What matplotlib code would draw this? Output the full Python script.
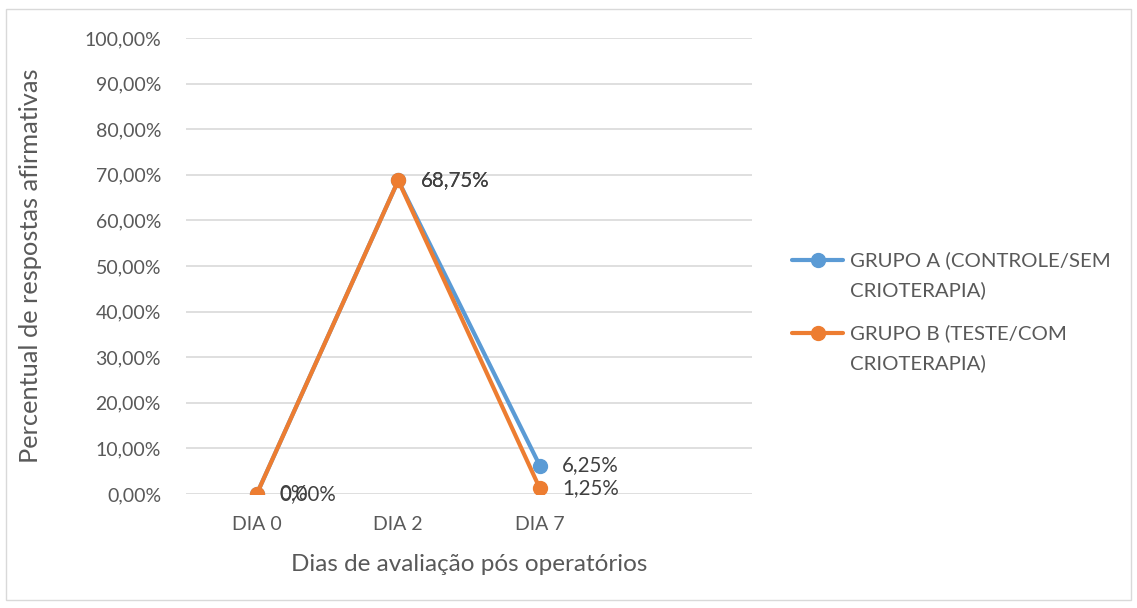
import matplotlib

matplotlib.use("Agg")
import matplotlib.pyplot as plt
from matplotlib.lines import Line2D
from matplotlib.ticker import FuncFormatter

categories = ["DIA 0", "DIA 2", "DIA 7", ""]
grupo_a = [0.0, 68.75, 6.25]
grupo_b = [0.0, 68.75, 1.25]
labels_a = ["0,00%", "68,75%", "6,25%"]
labels_b = ["0%", "68,75%", "1,25%"]
name_a = ["GRUPO A (CONTROLE/SEM", "CRIOTERAPIA)"]
name_b = ["GRUPO B (TESTE/COM", "CRIOTERAPIA)"]

plt.rcParams["font.family"] = ["Lato", "DejaVu Sans"]

BLUE = "#5B9BD5"
ORANGE = "#ED7D31"
TEXT = "#595959"
LABEL = "#404040"
FS = 14

W, H = 1137, 608
fig = plt.figure(figsize=(W / 100, H / 100), dpi=100)
ax = fig.add_axes([0.1636, 0.1875, 0.4978, 0.75])

x = list(range(len(grupo_a)))
ax.plot(x, grupo_a, color=BLUE, lw=3, marker="o", ms=10,
        solid_capstyle="round", zorder=3)
ax.plot(x, grupo_b, color=ORANGE, lw=3, marker="o", ms=10,
        solid_capstyle="round", zorder=4)

for xi, v, t in zip(x, grupo_a, labels_a):
    ax.annotate(t, (xi, v), xytext=(16, 0), textcoords="offset points",
                ha="left", va="center", fontsize=14.8, color=LABEL, zorder=5)
for xi, v, t in zip(x, grupo_b, labels_b):
    ax.annotate(t, (xi, v), xytext=(16, 0), textcoords="offset points",
                ha="left", va="center", fontsize=14.8, color=LABEL, zorder=6)

ax.set_xlim(-0.5, len(categories) - 0.5)
ax.set_ylim(0, 100)
ax.set_xticks(range(len(categories)))
ax.set_xticklabels(categories)
ax.set_yticks(range(0, 101, 10))
ax.yaxis.set_major_formatter(FuncFormatter(lambda v, p: f"{v:.2f}%".replace(".", ",")))
ax.tick_params(axis="both", length=0, labelsize=FS, colors=TEXT, pad=18)
ax.tick_params(axis="x", pad=16)
ax.grid(axis="y", color="#D9D9D9", lw=1.2)
ax.set_axisbelow(True)
for s in ax.spines.values():
    s.set_visible(False)

ax.set_ylabel("Percentual de respostas afirmativas", fontsize=18.3, color=TEXT)
ax.set_xlabel("Dias de avaliação pós operatórios", fontsize=17.5, color=TEXT)
ax.yaxis.set_label_coords(-0.2756, 0.5)
ax.xaxis.set_label_coords(0.5, -0.1557)
ax.yaxis.label.set_va("center")
ax.xaxis.label.set_va("center")

# legend drawn by hand: Excel puts the marker level with the first text line
for color, lines, ytop in [(BLUE, name_a, 260), (ORANGE, name_b, 333)]:
    yf = 1 - ytop / H
    fig.add_artist(Line2D([792 / W, 843 / W], [yf, yf], color=color, lw=3,
                          solid_capstyle="round"))
    fig.add_artist(Line2D([817.5 / W], [yf], color=color, marker="o", ms=10))
    for i, line in enumerate(lines):
        fig.text(850 / W, 1 - (ytop + 30 * i) / H, line, fontsize=14.7,
                 color=TEXT, ha="left", va="center")

border = plt.Rectangle((0.005, 0.013), 0.99, 0.973, transform=fig.transFigure,
                       fill=False, edgecolor="#D9D9D9", lw=1)
fig.patches.append(border)

fig.savefig("out.png", dpi=100)
